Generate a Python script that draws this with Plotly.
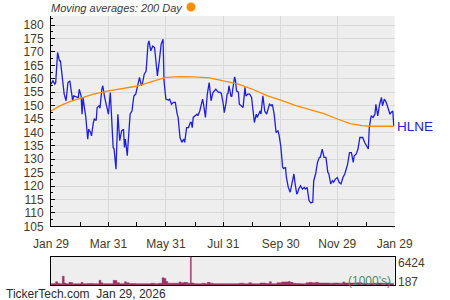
import plotly.graph_objects as go

# ---------------- data ----------------
price_dates = [
    "2025-01-29","2025-01-31","2025-02-02","2025-02-03","2025-02-05","2025-02-07","2025-02-08","2025-02-10",
    "2025-02-12","2025-02-14","2025-02-16","2025-02-18","2025-02-20","2025-02-21","2025-02-22","2025-02-25",
    "2025-02-27","2025-02-28","2025-03-02","2025-03-03","2025-03-04","2025-03-06","2025-03-07","2025-03-09",
    "2025-03-10","2025-03-12","2025-03-13","2025-03-15","2025-03-16","2025-03-18","2025-03-19","2025-03-21",
    "2025-03-22","2025-03-24","2025-03-25","2025-03-27","2025-03-29","2025-03-31","2025-04-02","2025-04-05",
    "2025-04-06","2025-04-08","2025-04-10","2025-04-12","2025-04-14","2025-04-16","2025-04-17","2025-04-18",
    "2025-04-20","2025-04-21","2025-04-23","2025-04-25","2025-04-27","2025-04-29","2025-05-01","2025-05-03",
    "2025-05-05","2025-05-06","2025-05-08","2025-05-10","2025-05-12","2025-05-13","2025-05-15","2025-05-17",
    "2025-05-19","2025-05-21","2025-05-22","2025-05-24","2025-05-26","2025-05-28","2025-05-29","2025-05-31",
    "2025-06-03","2025-06-04","2025-06-06","2025-06-08","2025-06-10","2025-06-12","2025-06-13","2025-06-15",
    "2025-06-17","2025-06-19","2025-06-20","2025-06-22","2025-06-24","2025-06-26","2025-06-27","2025-06-28",
    "2025-06-29","2025-07-03","2025-07-04","2025-07-06","2025-07-09","2025-07-10","2025-07-12","2025-07-14",
    "2025-07-16","2025-07-18","2025-07-20","2025-07-23","2025-07-24","2025-07-26","2025-07-28","2025-07-29",
    "2025-07-31","2025-08-01","2025-08-03","2025-08-04","2025-08-05","2025-08-06","2025-08-08","2025-08-09",
    "2025-08-10","2025-08-12","2025-08-13","2025-08-14","2025-08-16","2025-08-17","2025-08-19","2025-08-21",
    "2025-08-23","2025-08-24","2025-08-26","2025-08-28","2025-08-30","2025-08-31","2025-09-02","2025-09-04",
    "2025-09-05","2025-09-08","2025-09-09","2025-09-11","2025-09-13","2025-09-15","2025-09-16","2025-09-18",
    "2025-09-20","2025-09-21","2025-09-23","2025-09-25","2025-09-27","2025-09-28","2025-09-30","2025-10-02",
    "2025-10-03","2025-10-05","2025-10-06","2025-10-08","2025-10-10","2025-10-12","2025-10-14","2025-10-15",
    "2025-10-17","2025-10-18","2025-10-19","2025-10-21","2025-10-23","2025-10-25","2025-10-26","2025-10-28",
    "2025-10-30","2025-11-01","2025-11-03","2025-11-04","2025-11-06","2025-11-08","2025-11-10","2025-11-11",
    "2025-11-13","2025-11-15","2025-11-17","2025-11-19","2025-11-20","2025-11-22","2025-11-24","2025-11-25",
    "2025-11-27","2025-11-29","2025-11-30","2025-12-01","2025-12-03","2025-12-05","2025-12-07","2025-12-09",
    "2025-12-10","2025-12-12","2025-12-14","2025-12-16","2025-12-17","2025-12-19","2025-12-21","2025-12-23",
    "2025-12-25","2025-12-26","2025-12-28","2025-12-30","2026-01-01","2026-01-02","2026-01-04","2026-01-06",
    "2026-01-08","2026-01-09","2026-01-11","2026-01-13","2026-01-15","2026-01-16","2026-01-18","2026-01-20",
    "2026-01-22","2026-01-24","2026-01-25","2026-01-27","2026-01-28",
]
price_values = [
    158.0,159.2,158.0,158.6,169.8,166.7,166.7,160.5,
    154.3,151.8,158.6,159.2,154.3,151.8,153.6,153.3,
    153.0,156.1,153.5,146.8,153.0,148.0,145.6,137.5,
    141.2,140.0,138.7,143.7,145.0,144.5,149.3,149.9,
    149.0,156.1,157.4,153.0,149.3,146.8,154.9,134.4,
    133.8,126.3,146.8,136.9,140.6,141.2,134.4,137.5,
    131.3,137.0,146.8,148.0,153.6,154.3,157.4,160.5,
    157.4,158.0,161.7,162.9,172.9,174.1,170.4,172.2,
    171.6,164.2,161.1,166.7,172.9,174.7,159.2,152.4,
    152.0,152.4,150.5,151.2,151.2,146.8,145.6,138.1,
    136.3,137.5,136.3,141.8,141.8,143.7,143.7,141.8,
    145.6,146.8,146.2,148.0,152.4,150.5,145.6,154.3,
    158.6,151.8,154.9,156.1,155.8,154.9,154.9,154.3,
    150.5,147.4,151.2,154.3,154.5,157.4,153.6,153.3,
    156.1,160.7,159.2,155.5,155.0,150.5,149.9,149.3,
    156.8,153.6,154.3,154.3,153.0,150.5,143.7,146.8,
    145.6,148.0,146.8,153.6,148.0,146.8,148.0,150.5,
    149.9,150.5,146.8,140.0,140.6,139.4,135.0,127.0,
    126.5,127.0,123.2,119.5,117.7,120.8,124.5,121.4,
    117.0,117.6,118.9,120.1,118.9,119.5,118.9,119.5,
    114.6,113.7,114.0,122.0,124.5,128.8,130.7,130.7,
    133.8,130.7,130.7,125.1,124.7,120.8,122.0,121.4,
    122.6,123.2,122.3,121.4,120.8,123.2,124.5,127.0,
    128.2,132.5,132.5,128.8,131.3,131.9,133.8,138.1,
    138.1,138.1,136.3,135.0,133.8,141.8,146.2,145.6,
    146.8,150.5,146.2,150.5,153.0,149.9,152.4,151.2,
    148.7,146.8,147.4,148.0,142.3,
]

ma_dates = [
    "2025-01-29","2025-02-08","2025-02-18","2025-03-01","2025-03-15","2025-03-31","2025-04-15",
    "2025-05-01","2025-05-15","2025-05-31","2025-06-15","2025-06-30","2025-07-16","2025-07-31",
    "2025-08-16","2025-08-31","2025-09-16","2025-09-30","2025-10-16","2025-10-31","2025-11-15",
    "2025-11-29","2025-12-13","2025-12-25","2026-01-04","2026-01-28",
]
ma_values = [
    148.0,150.0,151.5,152.8,154.3,155.5,156.3,
    157.3,158.8,160.5,160.8,160.7,160.3,159.2,
    158.0,156.1,153.6,152.0,150.0,148.5,147.0,
    145.0,143.3,142.5,142.3,142.3,
]

vol_dates = [
    "2025-01-29","2025-02-01","2025-02-03","2025-02-05","2025-02-07","2025-02-10","2025-02-12","2025-02-14",
    "2025-02-17","2025-02-19","2025-02-21","2025-02-26","2025-03-02","2025-03-04","2025-03-08","2025-03-15",
    "2025-03-21","2025-03-23","2025-03-25","2025-04-01","2025-04-05","2025-04-07","2025-04-09","2025-04-12",
    "2025-04-17","2025-04-19","2025-04-22","2025-04-29","2025-05-05","2025-05-09","2025-05-15","2025-05-19",
    "2025-05-23","2025-05-27","2025-05-29","2025-05-31","2025-06-02","2025-06-08","2025-06-14","2025-06-16",
    "2025-06-19","2025-06-23","2025-06-26","2025-06-27","2025-06-30","2025-07-04","2025-07-08","2025-07-12",
    "2025-07-14","2025-07-17","2025-07-20","2025-07-26","2025-08-01","2025-08-07","2025-08-17","2025-08-22",
    "2025-08-27","2025-08-30","2025-09-04","2025-09-08","2025-09-14","2025-09-18","2025-09-20","2025-09-26",
    "2025-10-01","2025-10-04","2025-10-08","2025-10-10","2025-10-13","2025-10-16","2025-10-21","2025-10-27",
    "2025-10-30","2025-11-02","2025-11-06","2025-11-09","2025-11-15","2025-11-21","2025-11-25","2025-11-30",
    "2025-12-05","2025-12-07","2025-12-13","2025-12-20","2025-12-25","2025-12-30","2026-01-04","2026-01-10",
    "2026-01-16","2026-01-20","2026-01-24","2026-01-28",
]
vol_values = [
    300,350,750,400,300,2000,450,300,
    600,550,300,300,600,300,350,300,
    1050,500,300,300,1050,1000,500,300,
    750,500,350,300,300,300,400,300,
    400,1650,1500,800,400,400,700,500,
    600,400,6424,450,300,300,400,300,
    600,400,300,300,300,300,400,300,
    500,300,300,450,350,750,300,500,
    700,700,800,600,400,350,300,500,
    600,500,600,450,450,400,450,400,
    700,450,450,500,400,350,400,450,
    400,450,350,300,
]
vol_max_label = "6424"
vol_min_label = "187"

x_tick_vals = ["2025-01-29","2025-03-31","2025-05-31","2025-07-31","2025-09-30","2025-11-29","2026-01-29"]
x_tick_text = ["Jan 29","Mar 31","May 31","Jul 31","Sep 30","Nov 29","Jan 29"]
x_minor_vals = ["2025-03-01","2025-04-30","2025-07-01","2025-08-31","2025-10-30","2025-12-30"]
y_tick_vals = list(range(105, 181, 5))
symbol = "HLNE"

# ---------------- styling ----------------
FONT = "Liberation Sans, Arial, sans-serif"
LABEL_C = "#4a3a1e"
GRID_C = "#d9d9d9"
BG = "#eeeeee"
BLUE = "#2020d8"
ORANGE = "#ff8c00"
VOL_C = "#993366"

W, H = 450, 300
def px_x(p): return p / W
def px_y(p): return 1 - p / H

fig = go.Figure()
fig.add_trace(go.Scatter(x=price_dates, y=price_values, mode="lines",
                         line=dict(color=BLUE, width=1.3), xaxis="x", yaxis="y",
                         hoverinfo="skip"))
fig.add_trace(go.Scatter(x=ma_dates, y=ma_values, mode="lines",
                         line=dict(color=ORANGE, width=1.3),
                         xaxis="x", yaxis="y", hoverinfo="skip"))
fig.add_trace(go.Scatter(x=vol_dates, y=vol_values, mode="lines",
                         line=dict(color=VOL_C, width=0.5, shape="hv"), fill="tozeroy",
                         fillcolor=VOL_C, xaxis="x2", yaxis="y2", hoverinfo="skip"))

xdom = [px_x(51), px_x(394.7)]
fig.update_layout(
    template="none",
    width=W, height=H, margin=dict(l=0, r=0, t=0, b=0, pad=0, autoexpand=False),
    paper_bgcolor="white", plot_bgcolor=BG, showlegend=False,
    font=dict(family=FONT, size=12, color=LABEL_C),
    xaxis=dict(domain=xdom, anchor="y", type="date", range=["2025-01-29", "2026-01-29"],
               automargin=False,
               tickmode="array", tickvals=x_tick_vals, ticktext=x_tick_text,
               ticks="inside", ticklen=4, tickcolor="black", tickwidth=1,
               showline=True, linecolor="black", linewidth=1,
               showgrid=True, gridcolor=GRID_C, gridwidth=1, zeroline=False,
               tickfont=dict(family=FONT, size=12, color=LABEL_C), ticklabelstandoff=6,
               minor=dict(tickmode="array", tickvals=x_minor_vals, ticks="inside",
                          ticklen=4, tickcolor="black", showgrid=False)),
    yaxis=dict(domain=[px_y(226.3), px_y(16)], anchor="x", range=[105, 183.4],
               automargin=False,
               tickmode="array", tickvals=y_tick_vals,
               ticks="inside", ticklen=4, tickcolor="black", tickwidth=1,
               showline=True, linecolor="black", linewidth=1,
               showgrid=True, gridcolor=GRID_C, gridwidth=1, zeroline=False,
               tickfont=dict(family=FONT, size=12, color=LABEL_C), ticklabelstandoff=4,
               minor=dict(dtick=2.5, tick0=105, ticks="inside", ticklen=2,
                          tickcolor="black", showgrid=False)),
    xaxis2=dict(domain=xdom, anchor="y2", type="date", range=["2025-01-29", "2026-01-29"],
                automargin=False,
                showticklabels=False, ticks="", showline=True, mirror=True,
                linecolor="black", linewidth=1, showgrid=False, zeroline=False),
    yaxis2=dict(domain=[px_y(285), px_y(256.7)], anchor="x2", range=[0, 6424],
                automargin=False,
                showticklabels=False, ticks="", showline=True, mirror=True,
                linecolor="black", linewidth=1, showgrid=False, zeroline=False),
)

anns = [
    dict(text="<i>Moving averages: 200 Day</i>", x=px_x(50), y=px_y(8), xanchor="left",
         yanchor="middle", font=dict(family=FONT, size=11, color="#3a3a3a")),
    dict(text="TickerTech.com  Jan 29, 2026", x=px_x(5), y=px_y(294), xanchor="left",
         yanchor="middle", font=dict(family=FONT, size=12, color="#2a2a2a")),
    dict(text=vol_max_label, x=px_x(396.5), y=px_y(262.7), xanchor="left", yanchor="middle",
         font=dict(family=FONT, size=12, color=LABEL_C)),
    dict(text=vol_min_label, x=px_x(396.5), y=px_y(281.7), xanchor="left", yanchor="middle",
         font=dict(family=FONT, size=12, color=LABEL_C)),
    dict(text="(1000's)", x=px_x(392), y=px_y(280.7), xanchor="right", yanchor="middle",
         font=dict(family=FONT, size=12, color="#4f8a62")),
]
for a in anns:
    a.update(xref="paper", yref="paper", showarrow=False, borderpad=0)
fig.update_layout(annotations=anns)
fig.add_annotation(text=symbol, xref="paper", yref="y", x=px_x(396), y=price_values[-1],
                   xanchor="left", yanchor="middle", showarrow=False, borderpad=0,
                   font=dict(family=FONT, size=13.5, color="#2222cc"))
fig.add_shape(type="circle", xref="paper", yref="paper",
              x0=px_x(186.5), x1=px_x(195.5), y0=px_y(11.5), y1=px_y(2.5),
              fillcolor=ORANGE, line=dict(color=ORANGE, width=0))

fig.write_html("out.html")
